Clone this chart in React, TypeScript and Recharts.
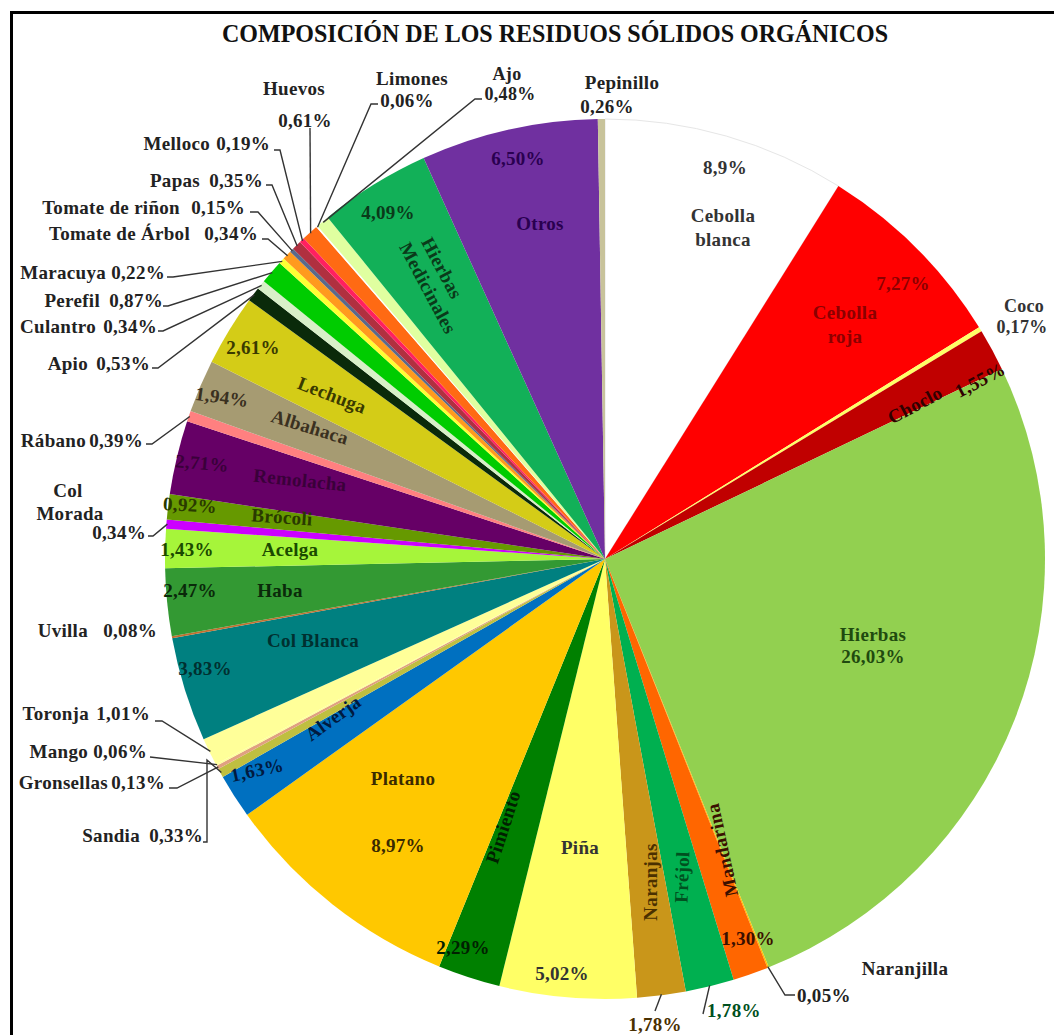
import { PieChart, Pie, Cell } from "recharts";

const names = [
  "Cebolla blanca", "Cebolla roja", "Coco", "Choclo", "Hierbas", "Naranjilla", "Mandarina",
  "Fréjol", "Naranjas", "Piña", "Pimiento", "Platano", "Alverja", "Sandia", "Gronsellas",
  "Mango", "Toronja", "Col Blanca", "Uvilla", "Haba", "Acelga", "Col Morada", "Brócoli",
  "Remolacha", "Rábano", "Albahaca", "Lechuga", "Apio", "Culantro", "Perefil", "Maracuya",
  "Tomate de Árbol", "Tomate de riñon", "Papas", "Melloco", "Huevos", "Limones", "Ajo",
  "Hierbas Medicinales", "Otros", "Pepinillo",
];

const values = [
  8.9, 7.27, 0.17, 1.55, 26.03, 0.05, 1.3, 1.78, 1.78, 5.02, 2.29, 8.97, 1.63, 0.33, 0.13,
  0.06, 1.01, 3.83, 0.08, 2.47, 1.43, 0.34, 0.92, 2.71, 0.39, 1.94, 2.61, 0.53, 0.34, 0.87,
  0.22, 0.34, 0.15, 0.35, 0.19, 0.61, 0.06, 0.48, 4.09, 6.5, 0.26,
];

const pctLabels = [
  "8,9%", "7,27%", "0,17%", "1,55%", "26,03%", "0,05%", "1,30%", "1,78%", "1,78%", "5,02%",
  "2,29%", "8,97%", "1,63%", "0,33%", "0,13%", "0,06%", "1,01%", "3,83%", "0,08%", "2,47%",
  "1,43%", "0,34%", "0,92%", "2,71%", "0,39%", "1,94%", "2,61%", "0,53%", "0,34%", "0,87%",
  "0,22%", "0,34%", "0,15%", "0,35%", "0,19%", "0,61%", "0,06%", "0,48%", "4,09%", "6,50%",
  "0,26%",
];

const colors = [
  "#FFFFFF", "#FF0000", "#FFFF66", "#C00000", "#92D050", "#FFC000", "#FF6600", "#00B050",
  "#C9961A", "#FFFF66", "#008000", "#FFC800", "#0070C0", "#BFBF40", "#E0A080", "#FFFF99",
  "#FFFF99", "#008080", "#C07030", "#339933", "#A6F53A", "#CC00FF", "#669900", "#660066",
  "#FF8080", "#A69B72", "#D4CC17", "#0A2A0A", "#D8F0C8", "#00CC00", "#FFFF33", "#FF9A1E",
  "#5A6A8A", "#B03040", "#FF2060", "#FF6A13", "#FFFFFF", "#E0FFA0", "#12B058", "#7030A0",
  "#C8C39B",
];

const data = names.map((name, i) => ({ name, value: values[i], pct: pctLabels[i] }));

// label placement (k: n = name, p = percent, t = literal text; r = rotation)
type Line = { k?: "n" | "p"; t?: string; x: number; y: number; a?: "start" | "middle" | "end"; r?: number };
type Spot = { c: string; s?: number; lines: Line[]; lead?: number[][] };

const spots: Spot[] = [
  { c: "#333", lines: [{ k: "p", x: 725, y: 167 }, { t: "Cebolla", x: 723, y: 215 }, { t: "blanca", x: 723, y: 239 }] },
  { c: "#8B0000", lines: [{ k: "p", x: 903, y: 283 }, { t: "Cebolla", x: 845, y: 312 }, { t: "roja", x: 845, y: 336 }] },
  { c: "#333", s: 18, lines: [{ k: "n", x: 1024, y: 306 }, { k: "p", x: 1022, y: 327 }] },
  { c: "#300000", lines: [{ k: "n", x: 915, y: 405, r: -28 }, { k: "p", x: 980, y: 380, r: -28 }] },
  { c: "#1F4A0F", lines: [{ k: "n", x: 873, y: 634 }, { k: "p", x: 873, y: 656 }] },
  { c: "#222", lines: [{ k: "n", x: 905, y: 968 }, { k: "p", x: 797, y: 995, a: "start" }], lead: [[785, 995], [795, 995]] },
  { c: "#3A1000", lines: [{ k: "n", x: 722, y: 850, r: -102 }, { k: "p", x: 748, y: 938 }] },
  { c: "#005020", lines: [{ k: "n", x: 682, y: 877, r: -88 }, { k: "p", x: 707, y: 1010, a: "start" }], lead: [[703, 1014]] },
  { c: "#4A3000", lines: [{ k: "n", x: 650, y: 882, r: -90 }, { k: "p", x: 655, y: 1024 }], lead: [[655, 1011]] },
  { c: "#333", lines: [{ k: "n", x: 580, y: 847 }, { k: "p", x: 562, y: 973 }] },
  { c: "#002000", lines: [{ k: "n", x: 503, y: 827, r: -72 }, { k: "p", x: 463, y: 947 }] },
  { c: "#3A2A00", lines: [{ k: "n", x: 403, y: 778 }, { k: "p", x: 398, y: 845 }] },
  { c: "#001A40", lines: [{ k: "n", x: 333, y: 718, r: -36 }, { k: "p", x: 257, y: 770, r: -12 }] },
  { c: "#222", lines: [{ k: "n", x: 140, y: 835, a: "end" }, { k: "p", x: 203, y: 835, a: "end" }], lead: [[207, 760], [207, 842], [203, 842]] },
  { c: "#222", lines: [{ k: "n", x: 108, y: 782, a: "end" }, { k: "p", x: 165, y: 782, a: "end" }], lead: [[177, 788], [169, 788]] },
  { c: "#222", lines: [{ k: "n", x: 88, y: 751, a: "end" }, { k: "p", x: 147, y: 751, a: "end" }], lead: [[150, 757]] },
  { c: "#222", lines: [{ k: "n", x: 89, y: 713, a: "end" }, { k: "p", x: 150, y: 713, a: "end" }], lead: [[162, 721], [155, 721]] },
  { c: "#003030", lines: [{ k: "n", x: 313, y: 640 }, { k: "p", x: 205, y: 668 }] },
  { c: "#222", lines: [{ k: "n", x: 88, y: 630, a: "end" }, { k: "p", x: 157, y: 630, a: "end" }] },
  { c: "#0A2A0A", lines: [{ k: "n", x: 280, y: 590 }, { k: "p", x: 190, y: 590 }] },
  { c: "#1A4A00", lines: [{ k: "n", x: 290, y: 549 }, { k: "p", x: 187, y: 549 }] },
  { c: "#222", lines: [{ t: "Col", x: 68, y: 490 }, { t: "Morada", x: 70, y: 513 }, { k: "p", x: 146, y: 532, a: "end" }], lead: [[153, 536], [148, 536]] },
  { c: "#2A3A00", lines: [{ k: "n", x: 282, y: 517, r: 4 }, { k: "p", x: 190, y: 505, r: 3 }] },
  { c: "#3A003A", lines: [{ k: "n", x: 300, y: 480, r: 6 }, { k: "p", x: 202, y: 463, r: 5 }] },
  { c: "#222", lines: [{ k: "n", x: 86, y: 440, a: "end" }, { k: "p", x: 143, y: 440, a: "end" }], lead: [[152, 444], [146, 444]] },
  { c: "#3A3020", lines: [{ k: "n", x: 310, y: 427, r: 17 }, { k: "p", x: 222, y: 397, r: 8 }] },
  { c: "#3A3A00", lines: [{ k: "n", x: 332, y: 395, r: 21 }, { k: "p", x: 253, y: 347 }] },
  { c: "#222", lines: [{ k: "n", x: 88, y: 363, a: "end" }, { k: "p", x: 150, y: 363, a: "end" }], lead: [[158, 368], [152, 368]] },
  { c: "#222", lines: [{ k: "n", x: 96, y: 326, a: "end" }, { k: "p", x: 157, y: 326, a: "end" }], lead: [[163, 331], [158, 331]] },
  { c: "#222", lines: [{ k: "n", x: 100, y: 300, a: "end" }, { k: "p", x: 163, y: 300, a: "end" }], lead: [[168, 306], [163, 306]] },
  { c: "#222", lines: [{ k: "n", x: 106, y: 272, a: "end" }, { k: "p", x: 165, y: 272, a: "end" }], lead: [[173, 277], [167, 277]] },
  { c: "#222", lines: [{ k: "n", x: 190, y: 233, a: "end" }, { k: "p", x: 258, y: 233, a: "end" }], lead: [[268, 239], [262, 239]] },
  { c: "#222", lines: [{ k: "n", x: 180, y: 207, a: "end" }, { k: "p", x: 245, y: 207, a: "end" }], lead: [[258, 212], [250, 212]] },
  { c: "#222", lines: [{ k: "n", x: 200, y: 180, a: "end" }, { k: "p", x: 263, y: 180, a: "end" }], lead: [[272, 185], [266, 185]] },
  { c: "#222", lines: [{ k: "n", x: 210, y: 143, a: "end" }, { k: "p", x: 270, y: 143, a: "end" }], lead: [[280, 150], [274, 150]] },
  { c: "#222", lines: [{ k: "n", x: 294, y: 88 }, { k: "p", x: 305, y: 120 }], lead: [[310, 128]] },
  { c: "#222", lines: [{ k: "n", x: 412, y: 78 }, { k: "p", x: 407, y: 100 }], lead: [[371, 104], [378, 104]] },
  { c: "#222", s: 18, lines: [{ k: "n", x: 507, y: 74 }, { k: "p", x: 510, y: 94 }], lead: [[475, 99], [482, 99]] },
  { c: "#0A3A1A", lines: [{ t: "Hierbas", x: 442, y: 268, r: 62 }, { t: "Medicinales", x: 428, y: 288, r: 62 }, { k: "p", x: 388, y: 212 }] },
  { c: "#2A0050", lines: [{ k: "n", x: 540, y: 223 }, { k: "p", x: 518, y: 158 }] },
  { c: "#222", lines: [{ k: "n", x: 622, y: 82 }, { k: "p", x: 607, y: 106 }] },
];

const FONT = "'Times New Roman', Tinos, 'Liberation Serif', 'DejaVu Serif', 'Noto Serif', serif";
const RAD = Math.PI / 180;

const renderLabel = (props: any) => {
  const { cx, cy, midAngle, outerRadius, index } = props;
  const spot = spots[index];
  if (!spot) return null;
  let lead = null;
  if (spot.lead) {
    const sx = cx + (outerRadius - 1) * Math.cos(-midAngle * RAD);
    const sy = cy + (outerRadius - 1) * Math.sin(-midAngle * RAD);
    const d = `M${sx},${sy}` + spot.lead.map((p) => ` L${p[0]},${p[1]}`).join("");
    lead = <path d={d} stroke="#333" strokeWidth={1.4} fill="none" />;
  }
  return (
    <g key={`lbl-${index}`}>
      {lead}
      {spot.lines.map((ln, j) => {
        const txt = ln.t ?? (ln.k === "p" ? data[index].pct : data[index].name);
        return (
          <text
            key={j}
            x={ln.x}
            y={ln.y}
            textAnchor={ln.a ?? "middle"}
            dominantBaseline="central"
            transform={ln.r ? `rotate(${ln.r} ${ln.x} ${ln.y})` : undefined}
            fill={spot.c}
            fontFamily={FONT}
            fontWeight={700}
            fontSize={spot.s ?? 19}
            letterSpacing={0.3}
          >
            {txt}
          </text>
        );
      })}
    </g>
  );
};

export default function App() {
  return (
    <div style={{ position: "fixed", left: 0, top: 0, width: 1054, height: 1035, overflow: "hidden", background: "#fff", fontFamily: FONT }}>
      <div
        style={{
          position: "absolute",
          left: 10,
          top: 11,
          width: 1100,
          height: 1100,
          border: "3px solid #000",
        }}
      />
      <svg width={1054} height={60} style={{ position: "absolute", left: 0, top: 0 }}>
        <text
          x={555}
          y={33}
          textAnchor="middle"
          dominantBaseline="central"
          textLength={666}
          lengthAdjust="spacingAndGlyphs"
          fill="#111"
          fontFamily={FONT}
          fontWeight={700}
          fontSize={25}
        >
          COMPOSICIÓN DE LOS RESIDUOS SÓLIDOS ORGÁNICOS
        </text>
      </svg>
      <div style={{ position: "absolute", left: 0, top: 0 }}>
        <PieChart width={1054} height={1035} margin={{ top: 0, right: 0, bottom: 0, left: 0 }}>
          <Pie
            data={data}
            dataKey="value"
            nameKey="name"
            cx={605}
            cy={559}
            outerRadius={440}
            startAngle={90}
            endAngle={-270}
            stroke="none"
            isAnimationActive={false}
            label={renderLabel}
            labelLine={false}
          >
            {data.map((d, i) => (
              <Cell key={d.name} fill={colors[i]} stroke={i === 0 ? "#E6E6E6" : "none"} />
            ))}
          </Pie>
        </PieChart>
      </div>
    </div>
  );
}
